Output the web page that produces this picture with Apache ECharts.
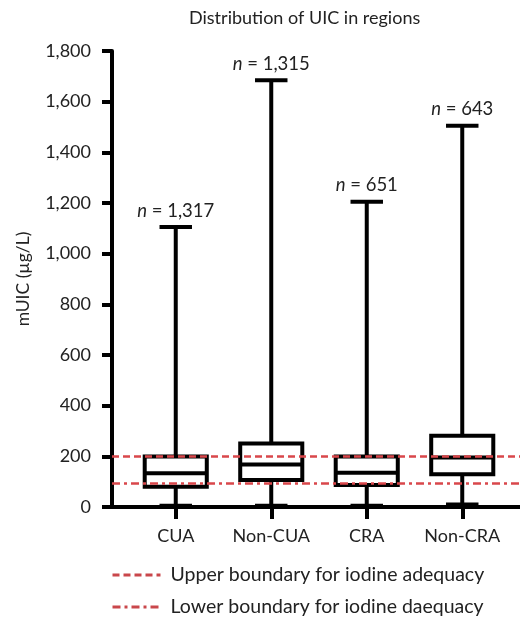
<html>
<head>
    <meta charset='utf-8'/>
    <title>Distribution of UIC in regions</title>
    <style>
        body { margin: 0; padding: 0; background: #fff; }
        #chart { width: 520px; height: 621px; }
    </style>
</head>
<body>
<div id='chart'></div>
<script type="text/javascript" src="https://cdn.jsdelivr.net/npm/echarts@6/dist/echarts.min.js"></script>
<script type="text/javascript">
    var categories = ['CUA', 'Non-CUA', 'CRA', 'Non-CRA'];
    var minVals = [5, 5, 5, 10];
    var q1Vals = [80, 107, 87, 129];
    var medianVals = [133, 168, 135, 195];
    var q3Vals = [199, 251, 199, 281];
    var maxVals = [1105, 1685, 1205, 1505];
    var nLabels = ['1,317', '1,315', '651', '643'];
    var upperBound = 200;
    var lowerBound = 92;

    var font = 'Lato';
    var red = '#d9474b';

    var boxData = categories.map(function (c, i) {
        return [i, minVals[i], q1Vals[i], medianVals[i], q3Vals[i], maxVals[i]];
    });

    function renderBox(params, api) {
        var i = api.value(0);
        var x = api.coord([i, 0])[0];
        var band = api.size([1, 0])[0];
        var bw = band * 0.65, cw = band * 0.34;
        var yMin = api.coord([i, api.value(1)])[1];
        var yQ1 = api.coord([i, api.value(2)])[1];
        var yMed = api.coord([i, api.value(3)])[1];
        var yQ3 = api.coord([i, api.value(4)])[1];
        var yMax = api.coord([i, api.value(5)])[1];
        var ls = {stroke: '#000', lineWidth: 4, fill: null};
        return {
            type: 'group',
            children: [
                {type: 'line', shape: {x1: x, y1: yQ3, x2: x, y2: yMax}, style: ls},
                {type: 'line', shape: {x1: x, y1: yQ1, x2: x, y2: yMin}, style: ls},
                {type: 'line', shape: {x1: x - cw / 2, y1: yMax, x2: x + cw / 2, y2: yMax}, style: ls},
                {type: 'line', shape: {x1: x - cw / 2, y1: yMin, x2: x + cw / 2, y2: yMin}, style: ls},
                {type: 'rect', shape: {x: x - bw / 2, y: yQ3, width: bw, height: yQ1 - yQ3},
                    style: {stroke: '#000', lineWidth: 4, fill: '#fff'}},
                {type: 'line', shape: {x1: x - bw / 2, y1: yMed, x2: x + bw / 2, y2: yMed}, style: ls},
                {
                    type: 'text',
                    style: {
                        text: '{i|n} = ' + nLabels[i],
                        x: x, y: yMax - 7,
                        align: 'center', verticalAlign: 'bottom',
                        fontSize: 18.5, fontFamily: font, fill: '#222',
                        rich: {i: {fontStyle: 'italic', fontSize: 18.5, fontFamily: font, fill: '#222'}}
                    }
                }
            ]
        };
    }

    var chart = echarts.init(document.getElementById('chart'));
    chart.setOption({
        animation: false,
        title: {
            text: 'Distribution of UIC in regions',
            left: 184, top: 4,
            textStyle: {fontSize: 18, fontWeight: 'normal', fontFamily: font, color: '#222'}
        },
        legend: {
            orient: 'vertical',
            left: 111, top: 565, padding: 0,
            itemWidth: 48, itemHeight: 14, itemGap: 12,
            itemStyle: {opacity: 0},
            lineStyle: {width: 3, color: '#c9474b'},
            textStyle: {fontSize: 19.5, fontFamily: font, color: '#222', lineHeight: 20, padding: [0, 0, 0, 5]},
            data: ['Upper boundary for iodine adequacy', 'Lower boundary for iodine daequacy']
        },
        grid: [
            {left: 112, right: 0, top: 51, bottom: 114, outerBoundsMode: 'none'},
            {left: 128, width: 382, top: 51, bottom: 114, outerBoundsMode: 'none'}
        ],
        xAxis: [
            {
                gridIndex: 0, type: 'value', min: 0, max: 1,
                axisLine: {show: true, onZero: false, lineStyle: {color: '#000', width: 4}},
                axisTick: {show: false}, axisLabel: {show: false}, splitLine: {show: false}
            },
            {
                gridIndex: 1, type: 'category', data: categories,
                axisLine: {show: false},
                axisTick: {show: true, alignWithLabel: true, length: 12, lineStyle: {color: '#000', width: 4}},
                axisLabel: {interval: 0, fontSize: 18, fontFamily: font, color: '#222', margin: 20},
                splitLine: {show: false}
            }
        ],
        yAxis: [
            {
                gridIndex: 0, type: 'value', min: 0, max: 1800, interval: 200,
                name: 'mUIC (\u00b5g/L)', nameLocation: 'middle', nameGap: 80, nameRotate: 90,
                nameTextStyle: {fontSize: 17.5, fontFamily: font, color: '#222'},
                axisLine: {show: true, lineStyle: {color: '#000', width: 4}},
                axisTick: {show: true, length: 10, lineStyle: {color: '#000', width: 4}},
                axisLabel: {
                    fontSize: 18, fontFamily: font, color: '#222', margin: 21,
                    formatter: function (v) { return v.toLocaleString('en-US'); }
                },
                splitLine: {show: false}
            },
            {
                gridIndex: 1, type: 'value', min: 0, max: 1800, show: false, splitLine: {show: false}
            }
        ],
        series: [
            {
                type: 'custom', name: 'boxes',
                xAxisIndex: 1, yAxisIndex: 1,
                renderItem: renderBox,
                encode: {x: 0, y: [1, 2, 3, 4, 5]},
                data: boxData, z: 2
            },
            {
                type: 'line', name: 'Upper boundary for iodine adequacy',
                xAxisIndex: 0, yAxisIndex: 0, data: [], symbol: 'none', z: 5,
                lineStyle: {color: red, width: 2.5, type: [7, 4]},
                itemStyle: {color: red},
                markLine: {
                    silent: true, symbol: 'none', label: {show: false},
                    lineStyle: {color: red, width: 2.5, type: [7, 4]},
                    data: [{yAxis: upperBound}]
                }
            },
            {
                type: 'line', name: 'Lower boundary for iodine daequacy',
                xAxisIndex: 0, yAxisIndex: 0, data: [], symbol: 'none', z: 5,
                lineStyle: {color: red, width: 2.5, type: [8, 4, 3, 4]},
                itemStyle: {color: red},
                markLine: {
                    silent: true, symbol: 'none', label: {show: false},
                    lineStyle: {color: red, width: 2.5, type: [8, 4, 3, 4]},
                    data: [{yAxis: lowerBound}]
                }
            }
        ]
    });
</script>
</body>
</html>
